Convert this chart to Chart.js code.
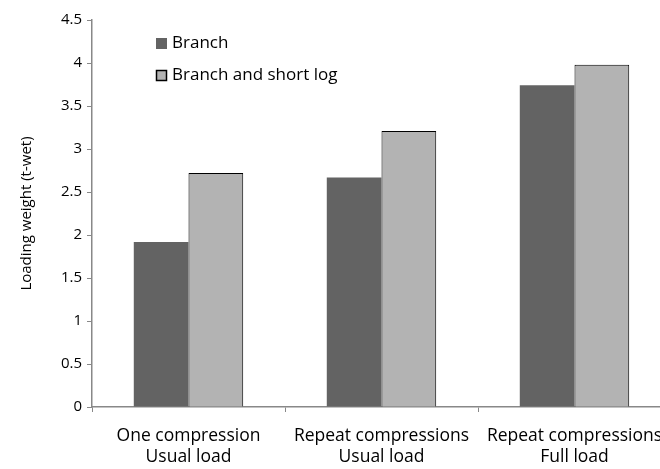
<!DOCTYPE html>
<html>
<head>
<meta charset="utf-8">
<script src="https://cdn.jsdelivr.net/npm/chart.js@4/dist/chart.umd.min.js"></script>
<style>
  html, body { margin: 0; padding: 0; background: #fff; overflow: hidden; }
  #marco { width: 660px; height: 469px; overflow: hidden; }
  #wrap { width: 690px; height: 469px; }
</style>
</head>
<body>
<div id="marco"><div id="wrap"><canvas id="grafico"></canvas></div></div>
<script>
const categorias = [
    ["One compression", "Usual load"],
    ["Repeat compressions", "Usual load"],
    ["Repeat compressions", "Full load"]
]
const rama = [1.92, 2.67, 3.74]
const ramaYTronco = [2.72, 3.21, 3.98]
const nombresSeries = ["Branch", "Branch and short log"]

const fuente = "'Open Sans', sans-serif"

// leyenda dibujada a mano dentro del area del grafico
const leyenda = {
    id: 'leyenda',
    afterDraw(chart) {
        const ctx = chart.ctx
        ctx.save()
        chart.data.datasets.forEach((ds, i) => {
            const y = 43.5 + i * 32
            ctx.fillStyle = ds.backgroundColor
            ctx.fillRect(156, y - 5.5, 11, 11)
            if (ds.borderWidth) {
                ctx.strokeStyle = '#000'
                ctx.lineWidth = 1.5
                ctx.strokeRect(156.5, y - 5, 10, 10)
            }
            ctx.fillStyle = '#000'
            ctx.font = "17px " + fuente
            ctx.textBaseline = 'middle'
            ctx.fillText(ds.label, 172, y)
        })
        ctx.restore()
    }
}

new Chart(document.getElementById("grafico"), {
    type: 'bar',
    data: {
        labels: categorias,
        datasets: [
            {
                label: nombresSeries[0],
                backgroundColor: "#636363",
                borderWidth: 0,
                data: rama
            }, {
                label: nombresSeries[1],
                backgroundColor: "#b3b3b3",
                borderColor: "#000",
                borderWidth: 1,
                data: ramaYTronco
            }
        ]
    },
    options: {
        responsive: true,
        maintainAspectRatio: false,
        animation: false,
        categoryPercentage: 0.567,
        barPercentage: 1,
        layout: { padding: { top: 20, right: 19, left: 0, bottom: 0 } },
        plugins: {
            legend: { display: false },
            tooltip: { enabled: false }
        },
        scales: {
            x: {
                grid: {
                    offset: true,
                    drawOnChartArea: false,
                    tickLength: 5,
                    color: '#888'
                },
                border: { color: '#888', width: 1.5 },
                ticks: {
                    color: '#000',
                    font: { family: fuente, size: 17.5, lineHeight: 1.2 },
                    padding: 14,
                    maxRotation: 0,
                    autoSkip: false
                },
                afterFit(scale) { scale.height = 62 }
            },
            y: {
                min: 0,
                max: 4.5,
                ticks: {
                    stepSize: 0.5,
                    color: '#000',
                    font: { family: fuente, size: 15 },
                    padding: 5,
                    callback: v => String(v)
                },
                grid: {
                    drawOnChartArea: false,
                    tickLength: 5,
                    color: '#888'
                },
                border: { color: '#888', width: 1.5 },
                title: {
                    display: true,
                    text: 'Loading weight (t-wet)',
                    color: '#000',
                    font: { family: fuente, size: 15 },
                    padding: { top: 18, bottom: 0 }
                },
                afterFit(scale) { scale.width = 92 }
            }
        }
    },
    plugins: [leyenda]
});
</script>
</body>
</html>
